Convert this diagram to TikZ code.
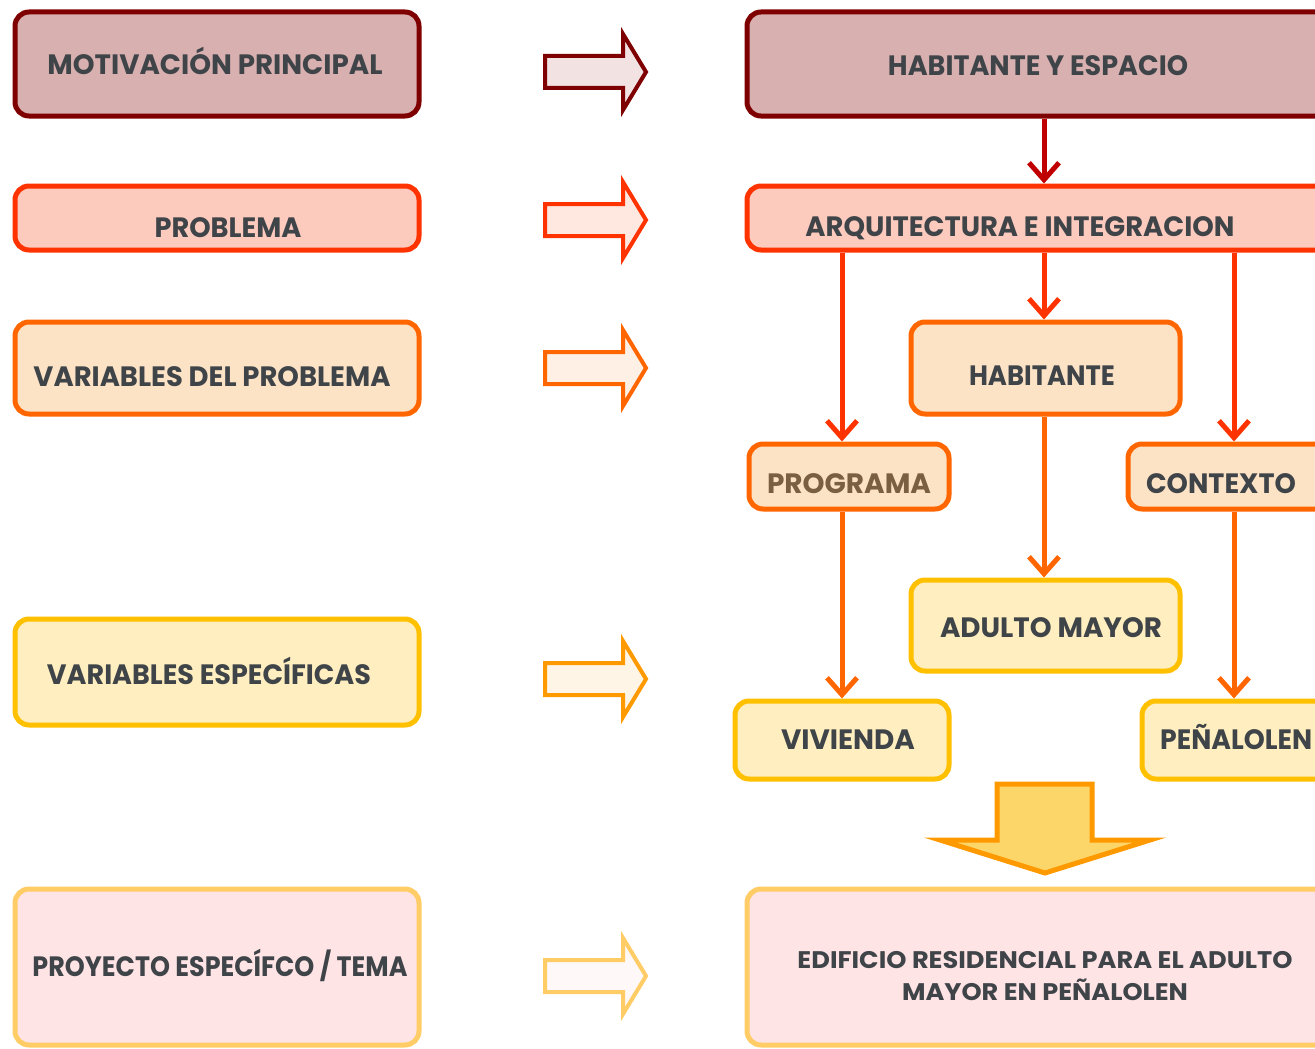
\documentclass[tikz,border=0pt]{standalone}
\usepackage{fontspec}
\setmainfont{Poppins}
\usepackage{graphicx}
\usetikzlibrary{arrows.meta}
\definecolor{txt}{HTML}{3F4449}
\definecolor{txtbr}{HTML}{7A6040}
\definecolor{dredS}{HTML}{7F0000}
\definecolor{dredF}{HTML}{D8B0B0}
\definecolor{redS}{HTML}{FF3300}
\definecolor{redF}{HTML}{FDCABE}
\definecolor{orS}{HTML}{FF6600}
\definecolor{orF}{HTML}{FDE3C6}
\definecolor{yeS}{HTML}{FFC000}
\definecolor{yeF}{HTML}{FFEEBF}
\definecolor{pkS}{HTML}{FFCC66}
\definecolor{pkF}{HTML}{FFE4E6}
\definecolor{crimson}{HTML}{C00000}
\definecolor{bigS}{HTML}{FF9900}
\definecolor{bigF}{HTML}{FDD66A}
\definecolor{aF1}{HTML}{F2E2E2}
\definecolor{aF2}{HTML}{FFE8E0}
\definecolor{aF3}{HTML}{FFF0E6}
\definecolor{aF4}{HTML}{FFF5E6}
\definecolor{aF5}{HTML}{FFF8F8}
\tikzset{
  box/.style={draw, line width=5pt, rounded corners=14pt, inner sep=0pt},
  lbl/.style={anchor=base, inner sep=0pt, text=txt, font=\fontsize{28}{30}\selectfont\bfseries},
  conn/.style={line width=5pt, -{Straight Barb[length=17pt,width=30pt]}},
  blk/.style={line width=4pt, miter limit=10},
}
\newcommand\fitw[2]{\resizebox{#1}{\height}{#2}}
\newcommand\rarrowblk[3]{\draw[blk,draw=#1,fill=#2] (545,#3-16) -- (623,#3-16) -- (623,#3-38) -- (646,#3) -- (623,#3+38) -- (623,#3+16) -- (545,#3+16) -- cycle;}
\begin{document}
\begin{tikzpicture}[x=1pt,y=-1pt]
\clip (0,0) rectangle (1315,1049);
\fill[white] (0,0) rectangle (1315,1049);
% left column
\node[box, draw=dredS, fill=dredF, minimum width=404, minimum height=104] (motiv) at (217,64) {};
\node[lbl] (tmotiv) at (215,75) {\fitw{335pt}{MOTIVACIÓN PRINCIPAL}};
\node[box, draw=redS, fill=redF, minimum width=404, minimum height=64] (prob) at (217,218) {};
\node[lbl] (tprob) at (228,237) {\fitw{147pt}{PROBLEMA}};
\node[box, draw=orS, fill=orF, minimum width=404, minimum height=92] (varp) at (217,368) {};
\node[lbl] (tvarp) at (212,386) {\fitw{357pt}{VARIABLES DEL PROBLEMA}};
\node[box, draw=yeS, fill=yeF, minimum width=404, minimum height=106] (vare) at (217,672) {};
\node[lbl] (tvare) at (209,684) {\fitw{324pt}{VARIABLES ESPECÍFICAS}};
\node[box, draw=pkS, fill=pkF, minimum width=404, minimum height=156] (proy) at (217,967) {};
\node[lbl] (tproy) at (220,976) {\fitw{375pt}{PROYECTO ESPECÍFCO / TEMA}};
% middle block arrows
\rarrowblk{dredS}{aF1}{72}
\rarrowblk{redS}{aF2}{220}
\rarrowblk{orS}{aF3}{368}
\rarrowblk{bigS}{aF4}{679}
\rarrowblk{pkS}{aF5}{976}
% right column
\node[box, draw=dredS, fill=dredF, minimum width=588, minimum height=104] (hye) at (1041,64) {};
\node[lbl] (thye) at (1038,76) {\fitw{300pt}{HABITANTE Y ESPACIO}};
\node[box, draw=redS, fill=redF, minimum width=588, minimum height=64] (arq) at (1041,218) {};
\node[lbl] (tarq) at (1020,236) {\fitw{429pt}{ARQUITECTURA E INTEGRACION}};
\node[box, draw=orS, fill=orF, minimum width=269, minimum height=92] (hab) at (1045.5,368) {};
\node[lbl] (thab) at (1042,385) {\fitw{146pt}{HABITANTE}};
\node[box, draw=orS, fill=orF, minimum width=200, minimum height=65] (prog) at (849,476.5) {};
\node[lbl, text=txtbr] (tprog) at (849,493) {\fitw{164pt}{PROGRAMA}};
\node[box, draw=orS, fill=orF, minimum width=207, minimum height=65] (cont) at (1231.5,476.5) {};
\node[lbl] (tcont) at (1221,493) {\fitw{150pt}{CONTEXTO}};
\node[box, draw=yeS, fill=yeF, minimum width=269, minimum height=91] (adul) at (1045.5,625.5) {};
\node[lbl] (tadul) at (1051,637) {\fitw{222pt}{ADULTO MAYOR}};
\node[box, draw=yeS, fill=yeF, minimum width=214, minimum height=78] (viv) at (842,740) {};
\node[lbl] (tviv) at (848,749) {\fitw{134pt}{VIVIENDA}};
\node[box, draw=yeS, fill=yeF, minimum width=193, minimum height=78] (pen) at (1238.5,740) {};
\node[lbl, anchor=base west] (tpen) at (1160,749) {\fitw{152pt}{PEÑALOLEN}};
\node[box, draw=pkS, fill=pkF, minimum width=598, minimum height=156] (edif) at (1046,967) {};
\node[anchor=north, inner sep=0pt, text=txt, align=center, font=\fontsize{24}{32}\selectfont\bfseries] (tedif) at (1045,951)
  {\fitw{495pt}{EDIFICIO RESIDENCIAL PARA EL ADULTO}\\\fitw{286pt}{MAYOR EN PEÑALOLEN}};
% big down arrow
\draw[blk, line width=5pt, draw=bigS, fill=bigF] (997,784) -- (1092,784) -- (1092,840) -- (1150,840) -- (1045,873) -- (940,840) -- (997,840) -- cycle;
% connectors
\coordinate (xl) at (842,0);
\coordinate (xm) at (1044,0);
\coordinate (xr) at (1234,0);
\draw[conn, draw=crimson] (hye.south -| xm) -- (arq.north -| xm);
\draw[conn, draw=redS] (arq.south -| xl) -- (prog.north -| xl);
\draw[conn, draw=redS] (arq.south -| xm) -- (hab.north -| xm);
\draw[conn, draw=redS] (arq.south -| xr) -- (cont.north -| xr);
\draw[conn, draw=orS] (hab.south -| xm) -- (adul.north -| xm);
\draw[conn, draw=orS] (prog.south -| xl) -- (viv.north -| xl);
\draw[conn, draw=orS] (cont.south -| xr) -- (pen.north -| xr);
\end{tikzpicture}
\end{document}
